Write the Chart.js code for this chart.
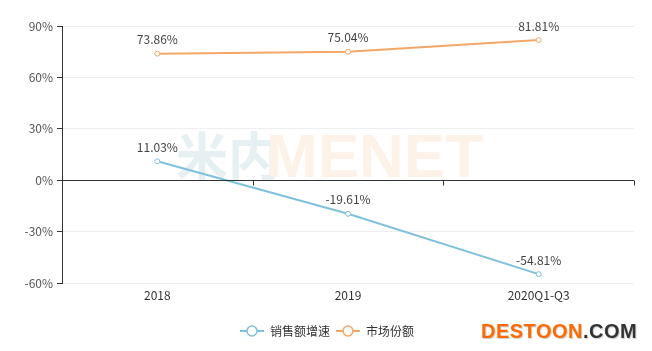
<!DOCTYPE html>
<html>
<head>
<meta charset="utf-8">
<script src="https://cdn.jsdelivr.net/npm/chart.js@4.4.1/dist/chart.umd.min.js"></script>
<style>
    html, body { margin: 0; padding: 0; background: #fff; }
    #wrap { position: relative; width: 652px; height: 351px; }
    #logo { position: absolute; left: 481px; top: 320px; font: bold 20px "Liberation Sans", sans-serif; line-height: 23px; letter-spacing: 0.5px; text-shadow: 1px 1px 1px #ccc; }
    #logo .a { color: #ff6a00; }
    #logo .b { color: #333; }
</style>
</head>
<body>
<div id="wrap">
    <canvas id="chart" width="652" height="351"></canvas>
    <div id="logo"><span class="a">DESTOON</span><span class="b">.COM</span></div>
</div>
<script>
// 데이터
const categories = ['2018', '2019', '2020Q1-Q3'];
const growthRate = [11.03, -19.61, -54.81];   // 销售额增速
const marketShare = [73.86, 75.04, 81.81];    // 市场份额
const yTicks = [-60, -30, 0, 30, 60, 90];

const BLUE = '#7fc0dc';
const ORANGE = '#f2a668';
const FONT = '"Noto Sans CJK SC", "Noto Sans", sans-serif';

// 범례 아이콘: 선 + 빈 원
const legendIcon = (color) => {
    const c = document.createElement('canvas');
    c.width = 24; c.height = 14;
    const g = c.getContext('2d');
    g.strokeStyle = color;
    g.lineWidth = 2;
    g.beginPath(); g.moveTo(0, 7); g.lineTo(24, 7); g.stroke();
    g.fillStyle = '#fff';
    g.lineWidth = 1.5;
    g.beginPath(); g.arc(12, 7, 5, 0, Math.PI * 2); g.fill(); g.stroke();
    return c;
};

// 워터마크 (米内MENET)
const watermark = {
    id: 'watermark',
    beforeDatasetsDraw(chart) {
        const ctx = chart.ctx;
        ctx.save();
        ctx.textBaseline = 'alphabetic';
        ctx.font = 'bold 52px "Noto Sans CJK SC", sans-serif';
        ctx.fillStyle = '#e6f0f3';
        ctx.fillText('米内', 176, 176);
        ctx.font = 'bold 62px "Liberation Sans", sans-serif';
        ctx.fillStyle = '#fdf2e8';
        ctx.fillText('MENET', 266, 177);
        ctx.restore();
    }
};

// 범례를 가운데로 살짝 이동
const legendShift = {
    id: 'legendShift',
    afterLayout(chart) {
        chart.legend.left += 10;
        chart.legend.right += 10;
    }
};

// 0% 위치의 x축 선과 눈금
const zeroAxis = {
    id: 'zeroAxis',
    afterDatasetsDraw(chart) {
        const { ctx, chartArea, scales } = chart;
        const y0 = Math.round(scales.y.getPixelForValue(0)) + 0.5;
        const step = (chartArea.right - chartArea.left) / categories.length;
        ctx.save();
        ctx.strokeStyle = '#333';
        ctx.lineWidth = 1;
        ctx.beginPath();
        ctx.moveTo(chartArea.left, y0);
        ctx.lineTo(chartArea.right, y0);
        for (let i = 0; i <= categories.length; i++) {
            const x = Math.round(chartArea.left + step * i) + 0.5;
            ctx.moveTo(x, y0);
            ctx.lineTo(x, y0 + 5);
        }
        ctx.stroke();
        ctx.restore();
    }
};

// 데이터 라벨
const valueLabels = {
    id: 'valueLabels',
    afterDraw(chart) {
        const ctx = chart.ctx;
        ctx.save();
        ctx.font = '12px ' + FONT;
        ctx.fillStyle = '#444';
        ctx.textAlign = 'center';
        ctx.textBaseline = 'bottom';
        chart.data.datasets.forEach((ds, di) => {
            chart.getDatasetMeta(di).data.forEach((pt, i) => {
                ctx.fillText(ds.data[i].toFixed(2) + '%', pt.x, pt.y - 8);
            });
        });
        ctx.restore();
    }
};

new Chart(document.getElementById('chart'), {
    type: 'line',
    data: {
        labels: categories,
        datasets: [
            {
                label: '销售额增速',
                data: growthRate,
                borderColor: BLUE,
                backgroundColor: '#fff',
                borderWidth: 2,
                pointRadius: 2.5,
                pointBorderWidth: 1,
                tension: 0
            },
            {
                label: '市场份额',
                data: marketShare,
                borderColor: ORANGE,
                backgroundColor: '#fff',
                borderWidth: 2,
                pointRadius: 2.5,
                pointBorderWidth: 1,
                tension: 0
            }
        ]
    },
    options: {
        responsive: false,
        animation: false,
        layout: { padding: { top: 26, right: 18, left: 0, bottom: 4 } },
        scales: {
            x: {
                offset: true,
                grid: { display: false },
                border: { display: false },
                afterFit: (scale) => { scale.height = 36; },
                ticks: { color: '#333', font: { size: 12, family: FONT }, padding: -3 }
            },
            y: {
                min: -60,
                max: 90,
                afterBuildTicks: (scale) => { scale.ticks = yTicks.map(v => ({ value: v })); },
                afterFit: (scale) => { scale.width = 62; },
                grid: { color: '#eeeeee', tickColor: '#333', tickLength: 5 },
                border: { color: '#333' },
                ticks: {
                    color: '#555',
                    font: { size: 12, family: FONT },
                    padding: 4,
                    callback: (v) => v + '%'
                }
            }
        },
        plugins: {
            legend: {
                position: 'bottom',
                labels: {
                    usePointStyle: true,
                    pointStyleWidth: 24,
                    generateLabels: (chart) => chart.data.datasets.map((ds, i) => ({
                        text: ds.label,
                        pointStyle: legendIcon(ds.borderColor),
                        fontColor: '#333',
                        strokeStyle: ds.borderColor,
                        fillStyle: '#fff',
                        lineWidth: 0,
                        datasetIndex: i
                    })),
                    color: '#333',
                    font: { size: 12, family: FONT },
                    padding: 6
                }
            },
            tooltip: { enabled: false }
        }
    },
    plugins: [watermark, legendShift, zeroAxis, valueLabels]
});
</script>
</body>
</html>
